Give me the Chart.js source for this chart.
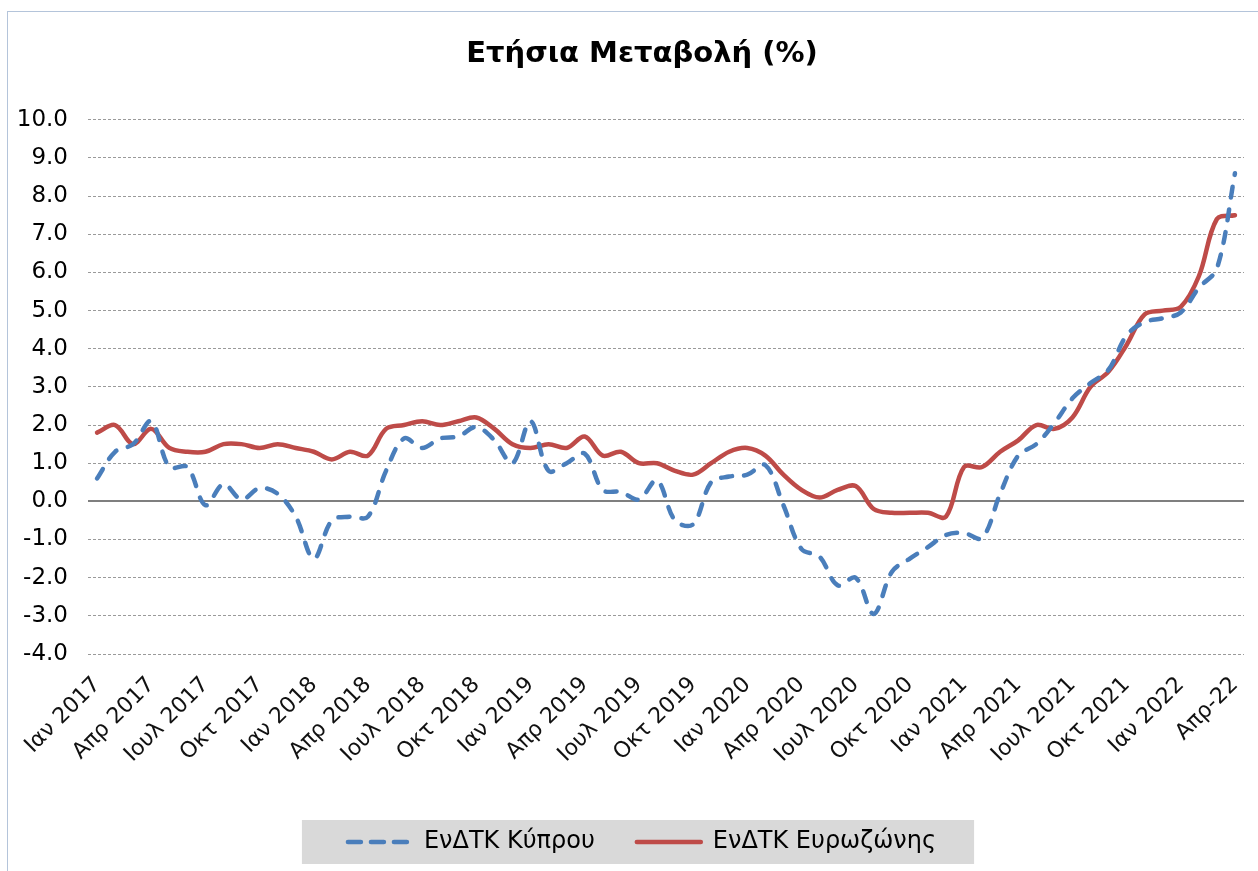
<!DOCTYPE html>
<html>
<head>
<meta charset="utf-8">
<script src="https://cdn.jsdelivr.net/npm/chart.js@4.4.1/dist/chart.umd.min.js"></script>
<style>
  html, body { margin: 0; padding: 0; background: #ffffff; overflow: hidden; width: 1258px; height: 871px; }
  #frame { position: absolute; left: 7px; top: 11px; width: 1268px; height: 880px; border: 1px solid #b4c4da; background: #ffffff; }
  #c { position: absolute; left: 0; top: 0; }
</style>
</head>
<body>
<div id="frame"><canvas id="c" width="1268" height="859"></canvas></div>
<script>
// Monthly categories, Jan 2017 .. Apr 2022
const monthNames = ['Ιαν','Φεβ','Μαρ','Απρ','Μαϊ','Ιουν','Ιουλ','Αυγ','Σεπ','Οκτ','Νοε','Δεκ'];
const years = [2017, 2018, 2019, 2020, 2021, 2022];
const categories = [];
for (const y of years) {
  for (const m of monthNames) {
    if (categories.length < 64) categories.push(m + ' ' + y);
  }
}

// Tick labels shown every third month
const tickLabels = [
  'Ιαν 2017','Απρ 2017','Ιουλ 2017','Οκτ 2017',
  'Ιαν 2018','Απρ 2018','Ιουλ 2018','Οκτ 2018',
  'Ιαν 2019','Απρ 2019','Ιουλ 2019','Οκτ 2019',
  'Ιαν 2020','Απρ 2020','Ιουλ 2020','Οκτ 2020',
  'Ιαν 2021','Απρ 2021','Ιουλ 2021','Οκτ 2021',
  'Ιαν 2022','Απρ-22'
];

// ΕνΔΤΚ Κύπρου (annual % change)
const cyprus = [
  0.6, 1.3, 1.5, 2.1, 0.9, 0.9, -0.1, 0.45, 0.05, 0.35, 0.2, -0.4,
  -1.5, -0.5, -0.4, -0.4, 0.8, 1.65, 1.4, 1.65, 1.7, 1.95, 1.6, 1.0,
  2.1, 0.8, 1.0, 1.25, 0.3, 0.25, 0.05, 0.55, -0.5, -0.6, 0.5, 0.65,
  0.7, 0.95, -0.1, -1.25, -1.45, -2.2, -2.0, -2.95, -1.85, -1.5, -1.2, -0.88,
  -0.83, -0.96, 0.2, 1.2, 1.5, 2.05, 2.7, 3.1, 3.45, 4.35, 4.7, 4.8,
  4.95, 5.6, 6.1, 8.6
];

// ΕνΔΤΚ Ευρωζώνης (annual % change)
const euroArea = [
  1.8, 2.0, 1.5, 1.9, 1.4, 1.3, 1.3, 1.5, 1.5, 1.4, 1.5, 1.4,
  1.3, 1.1, 1.3, 1.2, 1.9, 2.0, 2.1, 2.0, 2.1, 2.2, 1.9, 1.5,
  1.4, 1.5, 1.4, 1.7, 1.2, 1.3, 1.0, 1.0, 0.8, 0.7, 1.0, 1.3,
  1.4, 1.2, 0.7, 0.3, 0.1, 0.3, 0.4, -0.2, -0.3, -0.3, -0.3, -0.4,
  0.9, 0.9, 1.3, 1.6, 2.0, 1.9, 2.2, 3.0, 3.4, 4.1, 4.9, 5.0,
  5.1, 5.9, 7.4, 7.5
];

const seriesNames = ['ΕνΔΤΚ Κύπρου', 'ΕνΔΤΚ Ευρωζώνης'];
const titleText = 'Ετήσια Μεταβολή (%)';

Chart.defaults.font.family = "'DejaVu Sans', Verdana, sans-serif";
Chart.defaults.color = '#000000';

const legendBackground = {
  id: 'legendBackground',
  beforeDraw(chart) {
    const lg = chart.legend;
    if (!lg || !lg.legendHitBoxes || !lg.legendHitBoxes.length) return;
    const boxes = lg.legendHitBoxes;
    let minX = Infinity, maxX = -Infinity, cy = 0;
    boxes.forEach(b => {
      minX = Math.min(minX, b.left);
      maxX = Math.max(maxX, b.left + b.width);
      cy = b.top + b.height / 2;
    });
    const ctx = chart.ctx;
    ctx.save();
    ctx.fillStyle = '#d9d9d9';
    ctx.fillRect(minX - 46, cy - 22, (maxX - minX) + 46 + 38, 44);
    ctx.restore();
  }
};

const legendDash = [[13, 10], []];

new Chart(document.getElementById('c'), {
  type: 'line',
  data: {
    labels: categories,
    datasets: [
      {
        label: seriesNames[0],
        data: cyprus,
        borderColor: '#4a7ebb',
        backgroundColor: '#4a7ebb',
        borderWidth: 4.5,
        borderDash: [11, 12],
        borderCapStyle: 'round',
        pointRadius: 0,
        pointHoverRadius: 0,
        tension: 0.35,
        fill: false,
        yAxisID: 'y'
      },
      {
        label: seriesNames[1],
        data: euroArea,
        borderColor: '#be4b48',
        backgroundColor: '#be4b48',
        borderWidth: 4.5,
        borderCapStyle: 'round',
        borderJoinStyle: 'round',
        pointRadius: 0,
        pointHoverRadius: 0,
        tension: 0.35,
        fill: false,
        yAxisID: 'y'
      }
    ]
  },
  options: {
    responsive: false,
    animation: false,
    devicePixelRatio: 1,
    layout: { padding: { left: 0, right: 0, top: 0, bottom: 7 } },
    plugins: {
      title: {
        display: true,
        text: titleText,
        color: '#000000',
        font: { size: 29, weight: 'bold' },
        padding: { top: 25, bottom: 48 }
      },
      legend: {
        position: 'bottom',
        labels: {
          color: '#000000',
          font: { size: 24 },
          usePointStyle: true,
          pointStyle: 'line',
          pointStyleWidth: 64,
          boxHeight: 24,
          padding: 42,
          generateLabels: function (chart) {
            const items = Chart.defaults.plugins.legend.labels.generateLabels(chart);
            items.forEach((it, i) => {
              const ds = chart.data.datasets[it.datasetIndex];
              it.lineDash = legendDash[i] || [];
              it.lineWidth = 4.5;
              it.lineCap = 'round';
              it.strokeStyle = ds.borderColor;
              it.fillStyle = ds.borderColor;
            });
            return items;
          }
        }
      },
      tooltip: { enabled: false }
    },
    scales: {
      x: {
        type: 'category',
        offset: true,
        grid: { display: false, drawTicks: false },
        border: { display: false },
        ticks: {
          autoSkip: false,
          maxRotation: 45,
          minRotation: 45,
          padding: 18,
          color: '#111111',
          font: { size: 22 },
          callback: function (value, index) {
            return index % 3 === 0 ? tickLabels[index / 3] : '';
          }
        },
        afterFit: function (s) { s.height = 134; }
      },
      y: {
        position: 'left',
        min: -4,
        max: 10,
        ticks: {
          stepSize: 1,
          padding: 20,
          color: '#000000',
          font: { size: 23 },
          callback: function (v) { return Number(v).toFixed(1); }
        },
        grid: {
          drawTicks: false,
          color: function (ctx) { return ctx.tick && ctx.tick.value === 0 ? '#7f7f7f' : '#9a9a9a'; },
          lineWidth: function (ctx) { return ctx.tick && ctx.tick.value === 0 ? 2 : 1; }
        },
        border: {
          display: false,
          dash: function (ctx) { return ctx.tick && ctx.tick.value === 0 ? [] : [3, 2]; }
        },
        afterFit: function (s) { s.width = 80; }
      },
      yRight: {
        position: 'right',
        display: true,
        grid: { display: false, drawTicks: false },
        border: { display: false },
        ticks: { display: false },
        afterFit: function (s) { s.width = 32; }
      }
    }
  },
  plugins: [legendBackground]
});
</script>
</body>
</html>
